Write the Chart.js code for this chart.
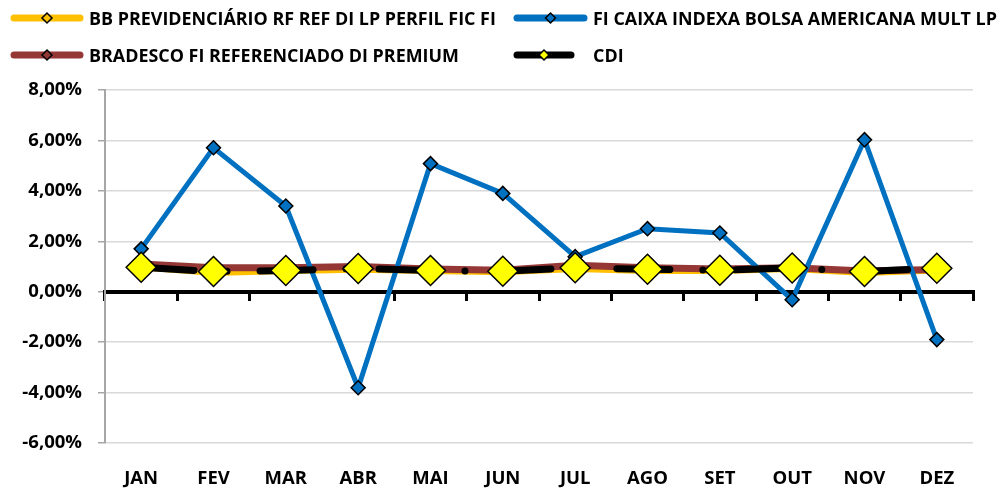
<!DOCTYPE html>
<html>
<head>
<meta charset="utf-8">
<script src="https://cdn.jsdelivr.net/npm/chart.js"></script>
<style>
  body { margin: 0; background: #fff; }
  #wrap { position: relative; width: 1002px; height: 491px; }
  #myChart { position: absolute; left: 0; top: 0; }
  .leg { position: absolute; display: flex; align-items: center; font: 700 17.9px "Open Sans", sans-serif; color: #000; white-space: nowrap; }
  .leg svg { margin-right: 1px; }
</style>
</head>
<body>
<div id="wrap">
  <canvas id="myChart" width="1002" height="491"></canvas>
</div>
<script>
const months = ['JAN', 'FEV', 'MAR', 'ABR', 'MAI', 'JUN', 'JUL', 'AGO', 'SET', 'OUT', 'NOV', 'DEZ'];
const bb = [0.95, 0.72, 0.80, 0.85, 0.80, 0.75, 0.88, 0.80, 0.80, 0.88, 0.72, 0.82];
const caixa = [1.70, 5.71, 3.40, -3.81, 5.08, 3.90, 1.39, 2.50, 2.33, -0.32, 6.03, -1.90];
const bradesco = [1.10, 0.95, 0.95, 1.00, 0.90, 0.85, 1.05, 0.95, 0.90, 0.95, 0.82, 0.88];
const cdi = [0.97, 0.80, 0.84, 0.92, 0.84, 0.81, 0.95, 0.89, 0.85, 0.94, 0.80, 0.93];
const yTicks = [8, 6, 4, 2, 0, -2, -4, -6];

const series = [
  { name: 'BB PREVIDENCIÁRIO RF REF DI LP PERFIL FIC FI', color: '#FFC000', fill: '#FFC000', x: 10, y: 18, w: 74 },
  { name: 'FI CAIXA INDEXA BOLSA AMERICANA MULT LP', color: '#0070C0', fill: '#0070C0', x: 513, y: 18, w: 75 },
  { name: 'BRADESCO FI REFERENCIADO DI PREMIUM', color: '#953735', fill: '#953735', x: 10, y: 55, w: 74 },
  { name: 'CDI', color: '#000000', fill: '#FFFF00', x: 513, y: 55, w: 62 }
];

// legend
const wrap = document.getElementById('wrap');
series.forEach(s => {
  const d = document.createElement('div');
  d.className = 'leg';
  d.style.left = s.x + 'px';
  d.style.top = (s.y - 12) + 'px';
  const c = s.w / 2;
  const gap = s.name === 'CDI' ? 17 : 4;
  d.innerHTML = `<svg width="${s.w + gap}" height="24"><line x1="4" y1="12" x2="${s.w - 4}" y2="12" stroke="${s.color}" stroke-width="7" stroke-linecap="round"/>` +
    `<polygon points="${c - 5},12 ${c},7 ${c + 5},12 ${c},17" fill="${s.fill}" stroke="#000" stroke-width="1.5"/></svg><span>${s.name}</span>`;
  wrap.appendChild(d);
});

const ctx = document.getElementById('myChart');
const tickFont = { family: 'Open Sans', weight: 'bold', size: 18.5 };

new Chart(ctx, {
  type: 'line',
  data: {
    labels: months,
    datasets: [
      {
        label: series[3].name,
        data: cdi,
        borderColor: '#000',
        borderWidth: 7,
        borderDash: [53, 33, 0, 33],
        borderCapStyle: 'round',
        pointStyle: 'rectRot',
        pointRadius: 15,
        pointBackgroundColor: '#FFFF00',
        pointBorderColor: '#000',
        pointBorderWidth: 1.5,
        tension: 0,
        order: 0
      },
      {
        label: series[1].name,
        data: caixa,
        borderColor: '#0070C0',
        borderWidth: 5,
        pointStyle: 'rectRot',
        pointRadius: 7,
        pointBackgroundColor: '#0070C0',
        pointBorderColor: '#000',
        pointBorderWidth: 1.5,
        tension: 0,
        order: 1
      },
      {
        label: series[2].name,
        data: bradesco,
        borderColor: '#953735',
        borderWidth: 7,
        pointStyle: 'rectRot',
        pointRadius: 6,
        pointBackgroundColor: '#953735',
        pointBorderColor: '#000',
        pointBorderWidth: 1.5,
        tension: 0,
        order: 2
      },
      {
        label: series[0].name,
        data: bb,
        borderColor: '#FFC000',
        borderWidth: 5,
        pointStyle: 'rectRot',
        pointRadius: 6,
        pointBackgroundColor: '#FFC000',
        pointBorderColor: '#000',
        pointBorderWidth: 1.5,
        tension: 0,
        order: 3
      }
    ]
  },
  options: {
    responsive: false,
    animation: false,
    layout: { padding: { top: 90, right: 29, left: 0, bottom: 0 } },
    plugins: { legend: { display: false }, tooltip: { enabled: false } },
    scales: {
      x: {
        type: 'category',
        offset: true,
        grid: { display: false },
        border: { display: false },
        ticks: { color: '#000', font: tickFont, padding: 17, maxRotation: 0 },
        afterFit: scale => { scale.height = 48; }
      },
      x0: {
        type: 'category',
        labels: months,
        position: { y: 0 },
        offset: true,
        ticks: { display: false },
        grid: { offset: true, drawOnChartArea: false, tickLength: 7, color: '#000', lineWidth: 3 },
        border: { color: '#000', width: 4 }
      },
      y: {
        min: -6,
        max: 8,
        afterBuildTicks: scale => { scale.ticks = yTicks.map(v => ({ value: v })); },
        grid: { color: '#d9d9d9', lineWidth: 1.5, borderDash: [8, 6], tickLength: 7, tickColor: '#a6a6a6', tickBorderDash: [] },
        border: { color: '#a6a6a6', width: 2 },
        ticks: {
          color: '#000',
          font: tickFont,
          padding: 16,
          callback: v => v.toFixed(2).replace('.', ',') + '%'
        },
        afterFit: scale => { scale.width = 105; }
      }
    }
  }
});
</script>
</body>
</html>
